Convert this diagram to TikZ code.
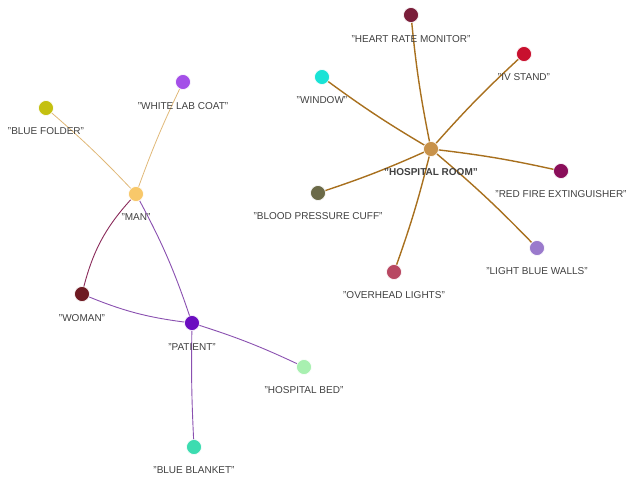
\documentclass[tikz,border=0pt]{standalone}
\usepackage{fontspec}
\setmainfont{Liberation Sans}
\begin{document}
\begin{tikzpicture}[x=1pt,y=-1pt,
  n/.style={circle,draw=white,line width=0.6pt,minimum size=15pt,inner sep=0pt},
  lb/.style={font=\fontsize{10}{12}\selectfont,text=black!75},
  er/.style={draw=brown!70!orange,line width=1.4pt},
  em/.style={draw=orange!50!yellow!80!brown,line width=0.7pt},
  ep/.style={draw=violet!70,line width=0.8pt}]
\useasboundingbox (0,0) rectangle (640,477);
\definecolor{cHR}{HTML}{7A1E3A}\definecolor{cIV}{HTML}{C8102E}
\definecolor{cWI}{HTML}{19E3D6}\definecolor{cRO}{HTML}{C8924A}
\definecolor{cRF}{HTML}{8A0E5A}\definecolor{cBP}{HTML}{6B6A48}
\definecolor{cLB}{HTML}{9A7ACC}\definecolor{cOL}{HTML}{B84862}
\definecolor{cWL}{HTML}{A44FE8}\definecolor{cBF}{HTML}{C4C010}
\definecolor{cMA}{HTML}{F8C86A}\definecolor{cWO}{HTML}{6E1A22}
\definecolor{cPA}{HTML}{6B0EC0}\definecolor{cHB}{HTML}{A8F0B0}
\definecolor{cBB}{HTML}{3CDCB0}
\definecolor{eR}{HTML}{A8701E}\definecolor{eM}{HTML}{E0B878}
\definecolor{eW}{HTML}{8A2A5A}\definecolor{eP}{HTML}{8A50B0}
% edges first
\coordinate (hr) at (411,15); \coordinate (iv) at (524,54); \coordinate (wi) at (322,77);
\coordinate (ro) at (431,149); \coordinate (rf) at (561,171); \coordinate (bp) at (318,193);
\coordinate (lbw) at (537,248); \coordinate (ol) at (394,272);
\coordinate (wl) at (183,82); \coordinate (bf) at (46,108); \coordinate (ma) at (136,194);
\coordinate (wo) at (82,294); \coordinate (pa) at (192,323); \coordinate (hb) at (304,367);
\coordinate (bb) at (194,447);
\foreach \t in {hr,iv,wi,rf,bp,lbw,ol} \draw[draw=eR,line width=1.4pt] (ro) to[bend left=3] (\t);
\draw[draw=eM,line width=0.8pt] (ma) to[bend left=3] (wl);
\draw[draw=eM,line width=0.8pt] (ma) to[bend right=3] (bf);
\draw[draw=eW,line width=0.9pt] (ma) to[bend right=15] (wo);
\draw[draw=eP,line width=0.9pt] (ma) to[bend left=5] (pa);
\draw[draw=eP,line width=0.9pt] (wo) to[bend right=8] (pa);
\draw[draw=eP,line width=0.9pt] (pa) to[bend left=4] (hb);
\draw[draw=eP,line width=0.9pt] (pa) to[bend right=2] (bb);
% nodes
\node[n,fill=cHR] (HR) at (hr) {}; \node[lb] at (411,39) {"HEART RATE MONITOR"};
\node[n,fill=cIV] (IV) at (iv) {}; \node[lb] at (524,77) {"IV STAND"};
\node[n,fill=cWI] (WI) at (wi) {}; \node[lb] at (322,100) {"WINDOW"};
\node[n,fill=cRO] (RO) at (ro) {}; \node[lb,font=\fontsize{10}{12}\selectfont\bfseries] at (431,172) {"HOSPITAL ROOM"};
\node[n,fill=cRF] (RF) at (rf) {}; \node[lb] at (561,194) {"RED FIRE EXTINGUISHER"};
\node[n,fill=cBP] (BP) at (bp) {}; \node[lb] at (318,216) {"BLOOD PRESSURE CUFF"};
\node[n,fill=cLB] (LBW) at (lbw) {}; \node[lb] at (537,271) {"LIGHT BLUE WALLS"};
\node[n,fill=cOL] (OL) at (ol) {}; \node[lb] at (394,295) {"OVERHEAD LIGHTS"};
\node[n,fill=cWL] (WL) at (wl) {}; \node[lb] at (183,106) {"WHITE LAB COAT"};
\node[n,fill=cBF] (BF) at (bf) {}; \node[lb] at (46,131) {"BLUE FOLDER"};
\node[n,fill=cMA] (MA) at (ma) {}; \node[lb] at (136,217) {"MAN"};
\node[n,fill=cWO] (WO) at (wo) {}; \node[lb] at (82,318) {"WOMAN"};
\node[n,fill=cPA] (PA) at (pa) {}; \node[lb] at (192,347) {"PATIENT"};
\node[n,fill=cHB] (HB) at (hb) {}; \node[lb] at (304,390) {"HOSPITAL BED"};
\node[n,fill=cBB] (BB) at (bb) {}; \node[lb] at (194,470) {"BLUE BLANKET"};
\end{tikzpicture}
\end{document}
